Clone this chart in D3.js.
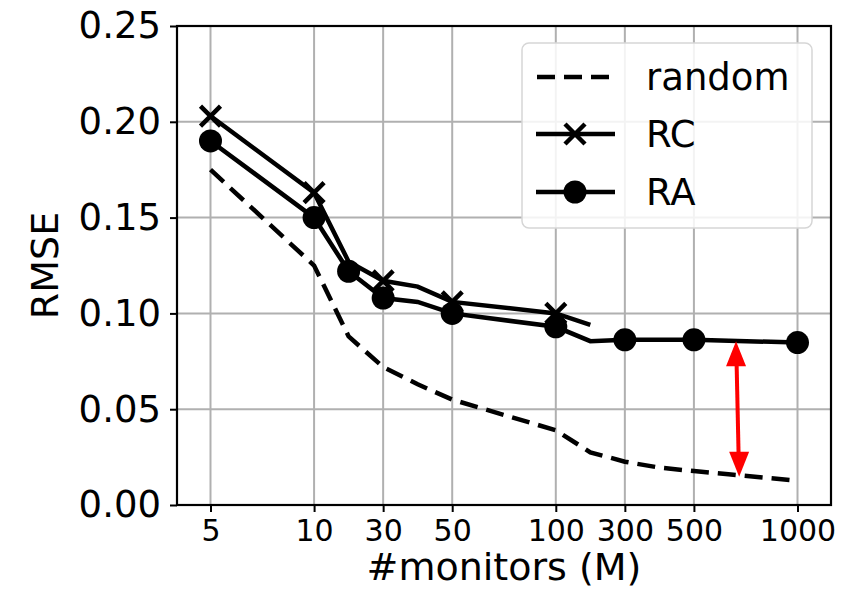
<!DOCTYPE html>
<html>
<head>
<meta charset="utf-8">
<script src="https://d3js.org/d3.v7.min.js"></script>
<style>
body { margin: 0; background: white; }
text { font-family: "DejaVu Sans", sans-serif; fill: #000; }
</style>
</head>
<body>
<script>
// M values in the order they were plotted (x is the position in this list)
var mValues = [5, 6, 8, 10, 20, 30, 40, 50, 60, 80, 100, 200, 300, 400, 500, 600, 800, 1000];
var xTicks = [5, 10, 30, 50, 100, 300, 500, 1000];
var yTicks = [0, 0.05, 0.10, 0.15, 0.20, 0.25];

// random (dashed)
var randomM = [5, 10, 20, 30, 40, 50, 100, 200, 300, 400, 500, 600, 1000];
var randomRmse = [0.175, 0.125, 0.088, 0.072, 0.063, 0.055, 0.039, 0.0275, 0.0226, 0.0195, 0.0177, 0.0160, 0.0127];

// RC (x markers)
var rcM = [5, 10, 20, 30, 40, 50, 100, 200];
var rcRmse = [0.203, 0.163, 0.127, 0.117, 0.114, 0.106, 0.100, 0.094];
var rcMarked = [5, 10, 30, 50, 100];

// RA (dots)
var raM = [5, 10, 20, 30, 40, 50, 100, 200, 300, 500, 1000];
var raRmse = [0.190, 0.150, 0.122, 0.108, 0.106, 0.100, 0.093, 0.0855, 0.0862, 0.0862, 0.0848];
var raMarked = [5, 10, 20, 30, 50, 100, 300, 500, 1000];

// red double arrow between RA and random, placed between M=600 and M=800
var arrowM = 600, arrowShift = [0.22, 0.31], arrowRmse = [0.0855, 0.0148];

var legendNames = ["random", "RC", "RA"];

var width = 851, height = 591;
var pLeft = 177, pRight = 831, pTop = 26, pBottom = 505;

var svg = d3.select("body").append("svg")
  .attr("width", width)
  .attr("height", height);

var x = d3.scalePoint().domain(mValues).range([pLeft, pRight]).padding(0.97);
var y = d3.scaleLinear().domain([0, 0.25]).range([pBottom, pTop]);

// grid
var grid = svg.append("g").attr("stroke", "#b0b0b0").attr("stroke-width", 2);
grid.selectAll(".gx").data(xTicks).enter().append("line")
  .attr("x1", function(d){ return x(d); }).attr("x2", function(d){ return x(d); })
  .attr("y1", pTop).attr("y2", pBottom);
grid.selectAll(".gy").data(yTicks).enter().append("line")
  .attr("x1", pLeft).attr("x2", pRight)
  .attr("y1", function(d){ return y(d); }).attr("y2", function(d){ return y(d); });

// axes
var xAxis = svg.append("g")
  .attr("transform", "translate(0," + pBottom + ")")
  .call(d3.axisBottom(x).tickValues(xTicks).tickSize(7).tickPadding(8));
var yAxis = svg.append("g")
  .attr("transform", "translate(" + pLeft + ",0)")
  .call(d3.axisLeft(y).tickValues(yTicks).tickFormat(d3.format(".2f")).tickSize(7).tickPadding(9));
[xAxis, yAxis].forEach(function(a){
  a.select(".domain").remove();
  a.selectAll(".tick line").attr("stroke", "#000").attr("stroke-width", 2);
  a.selectAll(".tick text").attr("font-family", "DejaVu Sans").attr("fill", "#000");
});
xAxis.selectAll(".tick text").attr("font-size", 30);
yAxis.selectAll(".tick text").attr("font-size", 37);

var line = d3.line()
  .x(function(d){ return x(d[0]); })
  .y(function(d){ return y(d[1]); });

var plot = svg.append("g");

plot.append("path")
  .attr("d", line(d3.zip(randomM, randomRmse)))
  .attr("fill", "none").attr("stroke", "#000").attr("stroke-width", 4.5)
  .attr("stroke-dasharray", "18,9");

plot.append("path")
  .attr("d", line(d3.zip(rcM, rcRmse)))
  .attr("fill", "none").attr("stroke", "#000").attr("stroke-width", 4.5);

plot.append("path")
  .attr("d", line(d3.zip(raM, raRmse)))
  .attr("fill", "none").attr("stroke", "#000").attr("stroke-width", 4.5);

function xMark(g, cx, cy) {
  var s = 10;
  g.append("path")
    .attr("d", "M" + (cx - s) + "," + (cy - s) + "L" + (cx + s) + "," + (cy + s) +
               "M" + (cx - s) + "," + (cy + s) + "L" + (cx + s) + "," + (cy - s))
    .attr("stroke", "#000").attr("stroke-width", 4.5).attr("fill", "none");
}

rcMarked.forEach(function(m){
  xMark(plot, x(m), y(rcRmse[rcM.indexOf(m)]));
});

plot.selectAll(".ra").data(raMarked).enter().append("circle")
  .attr("cx", function(d){ return x(d); })
  .attr("cy", function(d){ return y(raRmse[raM.indexOf(d)]); })
  .attr("r", 11.5)
  .attr("fill", "#000");

// red arrow
var ax1 = x(arrowM) + arrowShift[0] * x.step(), ay1 = y(arrowRmse[0]);
var ax2 = x(arrowM) + arrowShift[1] * x.step(), ay2 = y(arrowRmse[1]);
var headL = 25, headW = 10;
var arr = svg.append("g");
arr.append("line")
  .attr("x1", ax1 + (ax2 - ax1) * headL / (ay2 - ay1)).attr("y1", ay1 + headL - 2)
  .attr("x2", ax2 - (ax2 - ax1) * headL / (ay2 - ay1)).attr("y2", ay2 - headL + 2)
  .attr("stroke", "#ff0000").attr("stroke-width", 4);
arr.append("path")
  .attr("d", "M" + ax1 + "," + ay1 + "L" + (ax1 - headW) + "," + (ay1 + headL) + "L" + (ax1 + headW) + "," + (ay1 + headL) + "Z")
  .attr("fill", "#ff0000");
arr.append("path")
  .attr("d", "M" + ax2 + "," + ay2 + "L" + (ax2 - headW) + "," + (ay2 - headL) + "L" + (ax2 + headW) + "," + (ay2 - headL) + "Z")
  .attr("fill", "#ff0000");

// frame
svg.append("rect")
  .attr("x", pLeft).attr("y", pTop)
  .attr("width", pRight - pLeft).attr("height", pBottom - pTop)
  .attr("fill", "none").attr("stroke", "#000").attr("stroke-width", 2.2);

// legend
var lg = svg.append("g");
lg.append("rect")
  .attr("x", 522).attr("y", 43).attr("width", 290).attr("height", 185)
  .attr("rx", 7)
  .attr("fill", "white").attr("fill-opacity", 0.85)
  .attr("stroke", "#d6d6d6").attr("stroke-width", 1.5);
var rowY = [77, 134, 192];
legendNames.forEach(function(name, i){
  var yy = rowY[i];
  var h = lg.append("line")
    .attr("x1", 536).attr("x2", 615).attr("y1", yy).attr("y2", yy)
    .attr("stroke", "#000").attr("stroke-width", 4.5);
  if (i === 0) h.attr("stroke-dasharray", "18,9").attr("x1", 537);
  if (i === 1) xMark(lg, 575, yy);
  if (i === 2) lg.append("circle").attr("cx", 575).attr("cy", yy).attr("r", 11.5).attr("fill", "#000");
  lg.append("text")
    .attr("x", 646).attr("y", yy + 13)
    .attr("font-size", 37)
    .text(name);
});

// axis titles
svg.append("text")
  .attr("x", (pLeft + pRight) / 2).attr("y", 580)
  .attr("text-anchor", "middle")
  .attr("font-size", 38)
  .text("#monitors (M)");
svg.append("text")
  .attr("transform", "translate(58," + ((pTop + pBottom) / 2) + ") rotate(-90)")
  .attr("text-anchor", "middle")
  .attr("font-size", 38)
  .text("RMSE");
</script>
</body>
</html>
